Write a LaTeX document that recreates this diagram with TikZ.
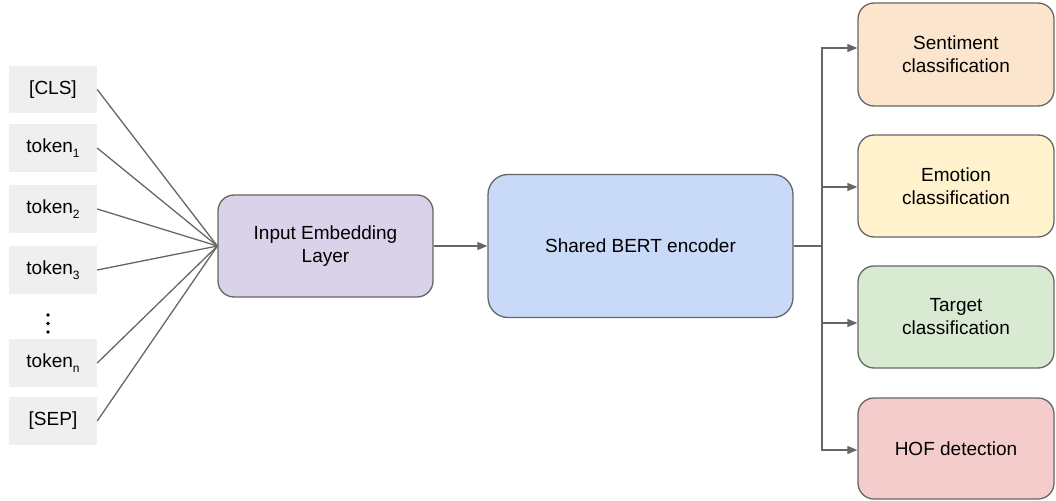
\documentclass[tikz,border=0pt]{standalone}
\usepackage{fontspec}
\setmainfont{Liberation Sans}
\usetikzlibrary{arrows.meta}
\definecolor{lineg}{HTML}{666666}
\definecolor{tokfill}{HTML}{EFEFEF}
\definecolor{embfill}{HTML}{D9D2E9}
\definecolor{bertfill}{HTML}{C9DAF8}
\definecolor{sentfill}{HTML}{FCE5CD}
\definecolor{emofill}{HTML}{FFF2CC}
\definecolor{tarfill}{HTML}{D9EAD3}
\definecolor{hoffill}{HTML}{F4CCCC}
\newcommand{\tsub}[1]{\raisebox{-5pt}{\fontsize{12}{12}\selectfont #1}}
\begin{document}
\begin{tikzpicture}[x=1pt,y=-1pt,
  every node/.style={font=\fontsize{19}{23}\selectfont, text=black, inner sep=0pt},
  tokbox/.style={rectangle, fill=tokfill, minimum width=88pt, minimum height=48pt},
  rbox/.style={rectangle, rounded corners=#1, draw=lineg, line width=1.3pt, align=center},
  rbox/.default=16pt,
  conn/.style={draw=lineg, line width=1.3pt},
  arr/.style={conn, -{Triangle[length=10pt,width=8pt]}}]
\useasboundingbox (0,0) rectangle (1056,500);
% tokens
\node[tokbox, minimum height=47pt] (cls) at (53,89.5) {[CLS]};
\node[tokbox] (t1) at (53,148) {token\tsub{1}};
\node[tokbox] (t2) at (53,209) {token\tsub{2}};
\node[tokbox] (t3) at (53,270) {token\tsub{3}};
\node[tokbox] (tn) at (53,363) {token\tsub{n}};
\node[tokbox] (sep) at (53,421) {[SEP]};
\fill (48,315) circle (1.8pt) (48,323.5) circle (1.8pt) (48,332) circle (1.8pt);
% main boxes
\node[rbox, fill=embfill, minimum width=215pt, minimum height=102pt] (emb) at (325.5,246) {Input Embedding\\Layer};
\node[rbox=20pt, fill=bertfill, minimum width=305pt, minimum height=143pt] (bert) at (640.5,246) {Shared BERT encoder};
\node[rbox, fill=sentfill, minimum width=196pt, minimum height=103pt] (sent) at (956,54.5) {Sentiment\\classification};
\node[rbox, fill=emofill, minimum width=196pt, minimum height=102pt] (emo) at (956,186) {Emotion\\classification};
\node[rbox, fill=tarfill, minimum width=196pt, minimum height=102pt] (tar) at (956,317) {Target\\classification};
\node[rbox, fill=hoffill, minimum width=196pt, minimum height=101pt] (hof) at (956,448.5) {HOF detection};
% connectors
\foreach \t in {cls,t1,t2,t3,tn,sep} \draw[conn] (\t.east) -- (emb.west);
\draw[arr] (emb.east) -- (bert.west);
\coordinate (jn) at (822,246);
\draw[conn] (bert.east) -- (jn);
\draw[arr] (jn) |- ([yshift=6.5pt]sent.west);
\draw[arr] (jn) |- ([yshift=-1pt]emo.west);
\draw[arr] (jn) |- ([yshift=-6pt]tar.west);
\draw[arr] (jn) |- ([yshift=-1.5pt]hof.west);
\end{tikzpicture}
\end{document}
